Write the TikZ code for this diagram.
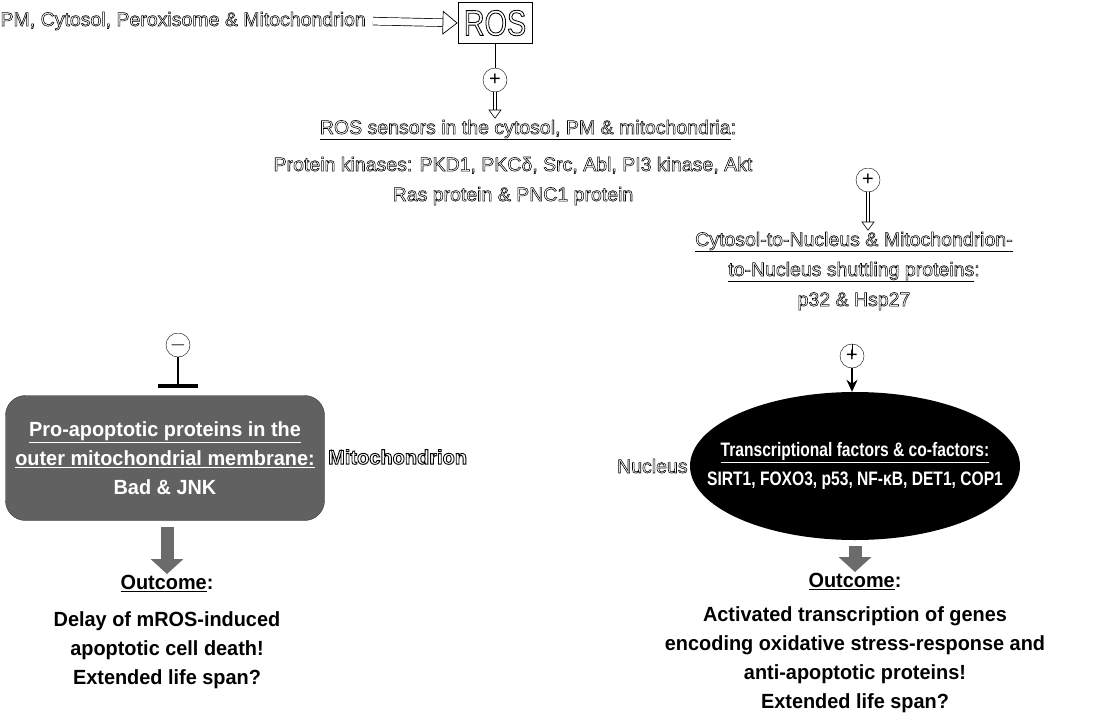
\documentclass[tikz,border=0pt]{standalone}
\usepackage{fontspec}
\setmainfont{Liberation Sans}
\newfontfamily\narrowfont[FakeStretch=0.8]{Liberation Sans}
\newfontfamily\widefont[FakeStretch=0.97]{Liberation Sans}
\usetikzlibrary{arrows.meta,positioning,shapes.geometric}
\newcommand{\outlon}[1]{\special{pdf:literal direct 1 Tr #1 w}}
\newcommand{\outloff}{\special{pdf:literal direct 0 Tr}}
\tikzset{txt/.style={align=center,font=\fontsize{19.5}{30}\selectfont,inner sep=1pt,
        execute at begin node=\outlon{0.55},execute at end node=\outloff},
    boldtxt/.style={align=center,font=\widefont\bfseries\fontsize{20.5}{29}\selectfont,inner sep=1pt},
    narrowtxt/.style={align=center,font=\narrowfont\bfseries\fontsize{19.5}{29}\selectfont,inner sep=1pt},
    sign/.style={draw,circle,minimum size=24pt,inner sep=0pt,fill=white,
        font=\fontsize{20}{20}\selectfont},
    hollow/.style={double,double distance=2.4pt,line width=0.6pt,
        -{Triangle[open,length=9pt,width=13pt,line width=0.6pt]}},
    block/.style={line width=13pt,black!58,shorten <=6pt,-{Triangle[width=32pt,length=15pt]}},
    level distance=1.2cm}

\begin{document}
\begin{tikzpicture}[x=1pt,y=-1pt]
    \useasboundingbox (0,0) rectangle (1106,723);
    % sources and ROS
    \node[txt,anchor=east] (src) at (367,21) {PM, Cytosol, Peroxisome \& Mitochondrion};
    \node[draw,line width=0.8pt,minimum width=74pt,minimum height=41pt,inner sep=0pt,
        font=\narrowfont\fontsize{36}{36}\selectfont,
        execute at begin node=\outlon{0.8},execute at end node=\outloff] (ros) at (495,23) {ROS};
    \draw[double,double distance=7pt,line width=0.7pt,shorten <=6pt,
        -{Triangle[open,length=15pt,width=24pt,line width=0.7pt]}] (src.east) -- (ros.west);
    \node[sign] (plusA) at (495,80) {+};
    \draw (ros) -- (plusA);
    % ROS sensors
    \node[txt] (sensT) at (528,130) {\underline{ROS sensors in the cytosol, PM \& mitochondria}:};
    \node[txt] (sensL) at (513,181) {Protein kinases: PKD1, PKCδ, Src, Abl, PI3 kinase, Akt\\
        Ras protein \& PNC1 protein};
    \draw[hollow] (plusA) -- (plusA |- sensT.north);
    % left branch
    \node[sign] (minus) at (178,345) {$-$};
    \draw[double,double distance=1.2pt,line width=0.5pt,shorten <=6pt] ([yshift=-6pt]sensT.west) -| (minus);
    \node[rounded corners=20pt,fill=black!62,draw=black!80,minimum width=319pt,
        minimum height=125pt,boldtxt,text=white] (apop) at (165,458)
        {\underline{Pro-apoptotic proteins in the}\\
        \underline{outer mitochondrial membrane:}\\Bad \& JNK};
    \draw[line width=1.2pt,-{Bar[width=40pt,line width=4pt]}] (minus) -- ([yshift=7pt]minus |- apop.north);
    \node[txt,anchor=west,font=\bfseries\fontsize{20}{30}\selectfont,
        execute at begin node=\outlon{0.9}] (mito) at (327,457) {Mitochondrion};
    \node[boldtxt] (outL) at (167,632) {\underline{Outcome}:\\[8pt]Delay of mROS-induced\\
        apoptotic cell death!\\Extended life span?};
    \draw[block] (apop.south -| outL) -- (outL.north);
    % right branch
    \node[sign] (plusB) at (868,180) {+};
    \draw[double,double distance=1.2pt,line width=0.5pt,shorten <=6pt] ([yshift=-6pt]sensT.east) -| (plusB);
    \node[txt] (shut) at (854,271) {\underline{Cytosol-to-Nucleus \& Mitochondrion-}\\
        \underline{to-Nucleus shuttling proteins}:\\p32 \& Hsp27};
    \draw[hollow] (plusB) -- (plusB |- shut.north);
    \node[sign] (plusC) at (852,356) {+};
    \draw[line width=1pt] ([yshift=-12pt]plusC.north) -- (plusC);
    \node[ellipse,fill=black,minimum width=330pt,minimum height=148pt,inner sep=0pt] (tf) at (855,466) {};
    \node[narrowtxt,text=white] (tfT) at (tf.center)
        {\underline{Transcriptional factors \& co-factors:}\\SIRT1, FOXO3, p53, NF-κB, DET1, COP1};
    \draw[line width=1.4pt,-{Stealth[length=12pt,width=11pt]}] (plusC) -- (plusC |- tf.north);
    \node[txt,left=1pt of tf] (nuc) {Nucleus};
    \node[boldtxt] (outR) at (855,643) {\underline{Outcome}:\\[5pt]Activated transcription of genes\\
        encoding oxidative stress-response and\\anti-apoptotic proteins!\\Extended life span?};
    \draw[block] (tf.south -| outR) -- (outR.north);
\end{tikzpicture}
\end{document}
